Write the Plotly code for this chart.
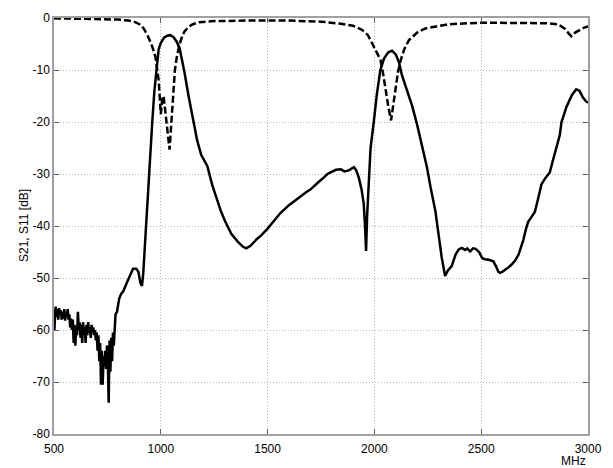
import plotly.graph_objects as go

# S21 (solid) frequency points [MHz] and values [dB]
s21_f = [500, 502, 505, 508, 512, 516, 520, 524, 528, 532, 536, 540, 544, 548, 552, 556, 560, 564, 568, 572,
         576, 580, 584, 588, 592, 596, 600, 604, 608, 612, 616, 620, 624, 628, 632, 636, 640, 644, 648, 652,
         656, 660, 664, 668, 672, 676, 680, 684, 688, 692, 696, 700, 704, 708, 712, 716, 720, 724, 728, 732,
         736, 740, 744, 748, 752, 756, 760, 764, 768, 772, 776, 780, 784, 788,
         795, 805, 815, 825, 840, 855, 870, 885, 895, 905, 912, 918, 925, 935, 948, 960, 970, 979, 990, 1000,
         1015, 1030, 1044, 1060, 1075, 1088, 1100, 1111, 1130, 1154, 1170, 1189, 1205, 1218, 1240, 1260, 1280,
         1300, 1330, 1360, 1385, 1400, 1420, 1450, 1470, 1500, 1530, 1560, 1600, 1640, 1680, 1700, 1720, 1740,
         1760, 1780, 1800, 1820, 1843, 1860, 1880, 1904, 1915, 1927, 1940, 1950, 1956, 1961, 1966, 1973, 1982,
         1997, 2012, 2028, 2045, 2065, 2083, 2100, 2115, 2129, 2150, 2176, 2200, 2225, 2246, 2265, 2285, 2300,
         2315, 2331, 2345, 2362, 2380, 2395, 2409, 2425, 2435, 2448, 2462, 2474, 2490, 2505, 2518, 2535, 2557,
         2570, 2580, 2588, 2600, 2615, 2627, 2640, 2658, 2675, 2697, 2710, 2720, 2735, 2751, 2765, 2782, 2800,
         2821, 2835, 2845, 2868, 2876, 2900, 2925, 2945, 2960, 2975, 2990, 3000]
s21_db = [-56, -60, -57, -55.5, -57.5, -56, -58, -55.8, -57, -56.2, -58, -56.5, -57.8, -56, -58.2, -56.5, -57.5, -56, -58, -57,
          -59.5, -57.8, -60, -58, -62.5, -59, -63, -59.5, -61, -56.5, -60, -58.5, -61.5, -59, -62.5, -58.5, -61, -59.5, -62.5, -59,
          -61, -58.5, -60.5, -59.5, -61.5, -59, -60.5, -59.5, -61, -60, -62, -60.5, -64, -61, -66, -62.5, -70.5, -64, -70.5, -65,
          -67, -64, -67.5, -63, -66, -74, -62, -68, -61.5, -66, -60.5, -63, -60, -57,
          -56.5, -54, -53, -52.5, -51, -49.5, -48.2, -48.2, -48.8, -51, -51.5, -49, -44, -36, -28, -20, -14, -10, -6, -4.8,
          -3.8, -3.4, -3.3, -3.7, -4.6, -5.8, -8, -10.5, -15, -20.5, -23.5, -26.3, -27.5, -28.5, -32, -34.5, -37,
          -39, -41.5, -43, -44, -44.3, -43.8, -42.5, -41.8, -40.5, -39, -37.5, -36, -34.7, -33.5, -33, -32.2, -31.5,
          -30.8, -30, -29.6, -29.2, -29.1, -29.5, -29.3, -28.7, -29.3, -30.7, -33, -35.7, -40, -44.8, -38, -31, -25,
          -20, -14.5, -10, -7.8, -6.6, -6.3, -7, -8.5, -11, -13.5, -16.8, -20.5, -25, -28.7, -33, -37, -41.5,
          -46, -49.6, -48.5, -47.7, -45.5, -44.5, -44.2, -44.6, -44.3, -44.9, -44.3, -44.4, -45, -46.2, -46.4, -46.5, -46.8,
          -47.8, -48.8, -49, -48.8, -48.3, -48, -47.5, -46.7, -45.5, -42.7, -40.5, -39.2, -38.3, -37.3, -35, -32, -30.8,
          -29.7, -27.5, -26, -22.5, -20, -17, -14.8, -13.7, -14, -15.2, -16, -16.3]

# S11 (dashed)
s11_f = [500, 600, 700, 800, 850, 880, 900, 920, 940, 960, 975, 985, 990, 1000, 1007, 1013, 1020, 1030, 1041,
         1048, 1056, 1066, 1075, 1085, 1100, 1111, 1130, 1150, 1181, 1250, 1400, 1600, 1750, 1843, 1900, 1943,
         1970, 1990, 2010, 2028, 2040, 2051, 2065, 2078, 2088, 2099, 2110, 2122, 2140, 2161, 2200, 2239, 2300,
         2347, 2500, 2650, 2800, 2860, 2890, 2910, 2922, 2940, 2961, 2980, 3000]
s11_db = [-0.05, -0.1, -0.2, -0.3, -0.5, -0.8, -1.2, -2, -3.5, -5.5, -7.5, -10, -12, -18.5, -15.5, -15, -17.5, -21.5, -25.3,
          -21, -15, -10, -7.5, -5.5, -3.5, -2.6, -1.7, -1.2, -0.8, -0.6, -0.5, -0.5, -0.7, -1.1, -1.5, -2.3,
          -3.3, -4.9, -6.3, -8, -10.5, -13.7, -17, -19.7, -17, -13.7, -10.5, -8.3, -6, -4.3, -2.8, -2, -1.5,
          -1.2, -0.9, -0.9, -1.0, -1.2, -2, -3, -3.5, -2.8, -2.3, -1.9, -1.6]

x_ticks = [500, 1000, 1500, 2000, 2500, 3000]
y_ticks = [0, -10, -20, -30, -40, -50, -60, -70, -80]

fig = go.Figure()
fig.add_trace(go.Scatter(x=s21_f, y=s21_db, mode="lines",
                         line=dict(color="black", width=2.5), showlegend=False))
fig.add_trace(go.Scatter(x=s11_f, y=s11_db, mode="lines",
                         line=dict(color="black", width=2.5, dash="7px,3px"), showlegend=False))

axis_common = dict(showline=True, mirror="ticks", linecolor="#a0a0a0", linewidth=1.5,
                   ticks="inside", ticklen=5, tickcolor="#606060",
                   showgrid=True, gridcolor="#b4b4b4", griddash="1px,2px", gridwidth=1,
                   zeroline=False, tickfont=dict(family="Liberation Sans, Arial", size=12, color="black"))

fig.update_xaxes(range=[500, 3000], tickvals=x_ticks, ticktext=[str(v) for v in x_ticks],
                 ticklabelstandoff=3, **axis_common)
fig.update_yaxes(range=[-80, 0], tickvals=y_ticks, ticktext=[str(v) for v in y_ticks], **axis_common)

fig.add_annotation(text="S21, S11 [dB]", xref="paper", yref="paper", x=0, y=0.5,
                   xshift=-39, textangle=-90, showarrow=False,
                   font=dict(family="Liberation Sans, Arial", size=12, color="black"))
fig.add_annotation(text="MHz", xref="paper", yref="paper", x=1, y=0, xanchor="right", yanchor="top",
                   yshift=-18, showarrow=False,
                   font=dict(family="Liberation Sans, Arial", size=12, color="black"))

fig.update_layout(width=613, height=468, margin=dict(l=54, r=23, t=11, b=34),
                  paper_bgcolor="white", plot_bgcolor="white")

fig.write_html("out.html")
